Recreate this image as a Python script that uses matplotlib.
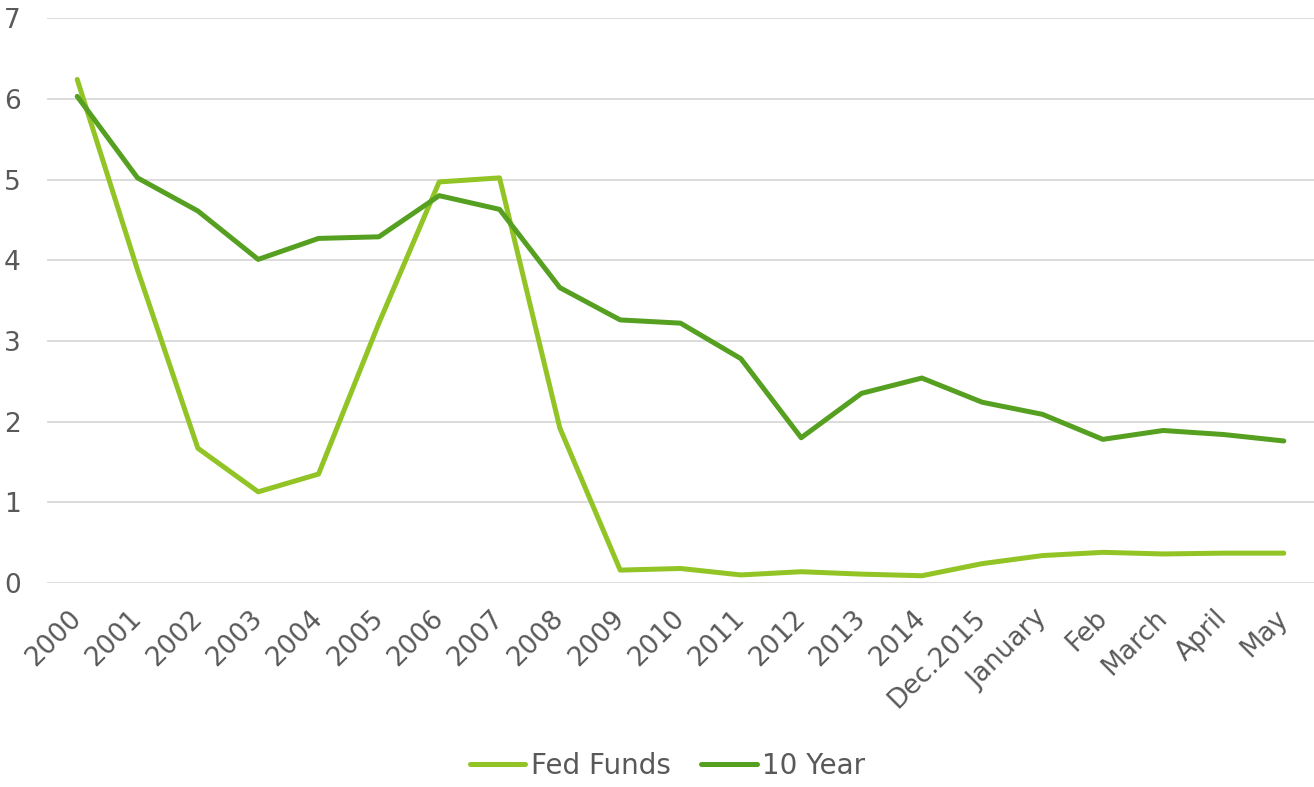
import matplotlib
matplotlib.use('Agg')
import matplotlib.pyplot as plt
from matplotlib.transforms import ScaledTranslation

# data
labels = ['2000', '2001', '2002', '2003', '2004', '2005', '2006', '2007', '2008', '2009',
          '2010', '2011', '2012', '2013', '2014', 'Dec.2015', 'January', 'Feb', 'March', 'April', 'May']
fed_funds = [6.24, 3.88, 1.67, 1.13, 1.35, 3.22, 4.97, 5.02, 1.92, 0.16,
             0.18, 0.10, 0.14, 0.11, 0.09, 0.24, 0.34, 0.38, 0.36, 0.37, 0.37]
ten_year = [6.03, 5.02, 4.61, 4.01, 4.27, 4.29, 4.80, 4.63, 3.66, 3.26,
            3.22, 2.78, 1.80, 2.35, 2.54, 2.24, 2.09, 1.78, 1.89, 1.84, 1.76]

plt.rcParams['font.family'] = ['DejaVu Sans']
text_color = '#595959'

fig = plt.figure(figsize=(13.14, 7.87), dpi=100)
ax = fig.add_axes([0.0358, 0.2592, 0.9642, 0.7178])

x = list(range(len(labels)))
ax.plot(x, fed_funds, color='#92C426', lw=3.6, label='Fed Funds', solid_capstyle='round')
ax.plot(x, ten_year, color='#56A021', lw=3.6, label='10 Year', solid_capstyle='round')

ax.set_xlim(-0.5, len(labels) - 0.5)
ax.set_ylim(0, 7)
ax.set_yticks(range(0, 8))
ax.set_xticks(x)
ax.set_xticklabels(labels, rotation=45, ha='right', va='top', rotation_mode='anchor')
ax.tick_params(axis='both', length=0, labelsize=19, colors=text_color)
ax.tick_params(axis='y', pad=19)
ax.tick_params(axis='x', pad=16)

# shift x labels a bit to the left like the original
shift = ScaledTranslation(-9 / 100, 0, fig.dpi_scale_trans)
for lab in ax.get_xticklabels():
    lab.set_transform(lab.get_transform() + shift)

ax.grid(axis='y', color='#D9D9D9', lw=1.3)
ax.set_axisbelow(True)
for s in ax.spines.values():
    s.set_visible(False)

leg = fig.legend(loc='center', bbox_to_anchor=(0.508, 0.027), ncol=2, frameon=False,
                 fontsize=20, handlelength=2.0, columnspacing=1.1, handletextpad=0.2)
for t in leg.get_texts():
    t.set_color(text_color)

fig.savefig('out.png', dpi=100)
